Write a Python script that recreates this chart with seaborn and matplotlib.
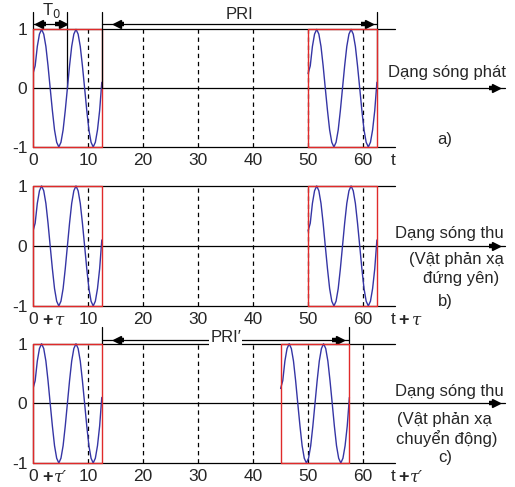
import numpy as np
import pandas as pd
import seaborn as sns
import matplotlib.pyplot as plt

# sampled carrier inside one pulse (offset from pulse start, 16 samples per period)
pulse_off = [0.0, 0.39, 0.78, 1.17, 1.56, 1.95, 2.34, 2.73, 3.12, 3.52, 3.91, 4.30,
             4.69, 5.08, 5.47, 5.86, 6.25, 6.64, 7.03, 7.42, 7.81, 8.20, 8.59, 8.98,
             9.38, 9.77, 10.16, 10.55, 10.94, 11.33, 11.72, 12.11, 12.5]
pulse_val = [0.25, 0.38, 0.71, 0.92, 1.0, 0.92, 0.71, 0.38, 0.0, -0.38, -0.71, -0.92,
             -1.0, -0.92, -0.71, -0.38, 0.0, 0.38, 0.71, 0.92, 1.0, 0.92, 0.71, 0.38,
             0.0, -0.38, -0.71, -0.92, -1.0, -0.92, -0.71, -0.38, 0.1]
pulse_width = 12.5

# pulse start times in each panel
starts_a = [0, 50]
starts_b = [0, 50]
starts_c = [0, 45]

tick_vals = [0, 10, 20, 30, 40, 50, 60]
tick_labels = ["0", "10", "20", "30", "40", "50", "60"]
t0_period = 6.2

sns.set_style("white")
plt.rcParams["font.family"] = ["Liberation Sans", "DejaVu Sans"]

BLUE = "#3535a5"
RED = "#e02a2a"
K = "black"

fig = plt.figure(figsize=(5.15, 4.87), dpi=100)
axa = fig.add_axes([0.0641, 0.6982, 0.9359, 0.3018])
axb = fig.add_axes([0.0641, 0.3717, 0.9359, 0.3080])
axc = fig.add_axes([0.0641, 0.0493, 0.9359, 0.3060])


def arrow_head(ax, x, y, direction):
    # matlab style head: small block + triangle
    d = 1 if direction == ">" else -1
    ax.plot([x - d * 2.0, x - d * 1.0], [y, y], color=K, lw=3.2, solid_capstyle="butt", clip_on=False)
    ax.plot([x - d * 0.6], [y], marker=direction, color=K, ms=5.5, clip_on=False)


def base_panel(ax, starts, tlabel):
    ax.set_xlim(0, 87.6)
    ax.set_ylim(-1, 1.5)
    ax.patch.set_visible(False)
    for s in ax.spines.values():
        s.set_visible(False)
    # frame lines
    ax.plot([0, 65.8], [1, 1], color=K, lw=0.9, clip_on=False)
    ax.plot([0, 65.8], [-1, -1], color=K, lw=0.9, clip_on=False)
    ax.plot([0, 0], [-1, 1], color=K, lw=0.9, clip_on=False)
    ax.plot([0, 85.8], [0, 0], color=K, lw=0.9, clip_on=False)
    arrow_head(ax, 84.8, 0, ">")
    for v in tick_vals[1:]:
        ax.plot([v, v], [-1, 1], color=K, lw=0.9, ls=(0, (3.5, 3)))
    # pulses
    for st in starts:
        df = pd.DataFrame({"t": [st + o for o in pulse_off], "v": pulse_val})
        sns.lineplot(data=df, x="t", y="v", ax=ax, color=BLUE, lw=1.0,
                     estimator=None, sort=False, zorder=4)
        ax.plot([st, st, st + pulse_width, st + pulse_width, st],
                [-1, 1, 1, -1, -1], color=RED, lw=1.0, zorder=5, clip_on=False)
    ax.set_xticks(tick_vals + [65.5])
    ax.set_xticklabels(tick_labels + ["t"])
    ax.set_yticks([1, 0, -1])
    ax.set_yticklabels(["1", "0", "-1"])
    ax.tick_params(length=0, labelsize=12.5, pad=4)
    ax.set_xlabel("")
    ax.set_ylabel("")
    if tlabel:
        for x0 in (2.6, 67.4):
            ax.text(x0, -1.24, "+", fontsize=13, fontweight="bold", ha="center", va="center", clip_on=False)
            ax.text(x0 + 2.3, -1.24, tlabel, fontsize=12, family="DejaVu Serif", style="italic",
                    ha="center", va="center", clip_on=False)


base_panel(axa, starts_a, None)
base_panel(axb, starts_b, "τ")
base_panel(axc, starts_c, "τ′")

# panel a annotations
for x in (0, t0_period, pulse_width, 62.5):
    axa.plot([x, x], [0 if x else 1, 1.29], color=K, lw=0.9, zorder=6 if x == pulse_width else 3, clip_on=False)
axa.plot([0, t0_period], [1.085, 1.085], color=K, lw=0.9)
arrow_head(axa, 0.4, 1.085, "<")
arrow_head(axa, 6.0, 1.085, ">")
axa.text(3.4, 1.32, "T$_0$", fontsize=12, ha="center", va="center")
axa.plot([pulse_width, 62.5], [1.085, 1.085], color=K, lw=0.9)
arrow_head(axa, 14.6, 1.085, "<")
arrow_head(axa, 61.6, 1.085, ">")
axa.text(37.6, 1.25, "PRI", fontsize=12, ha="center", va="center")
axa.text(64.5, 0.27, "Dạng sóng phát", fontsize=12, ha="left", va="center")
axa.text(74.9, -0.88, "a)", fontsize=12, ha="center", va="center")

# panel b annotations
axb.text(65.8, 0.2, "Dạng sóng thu", fontsize=12, ha="left", va="center")
axb.text(68.4, -0.22, "(Vật phản xạ", fontsize=12, ha="left", va="center")
axb.text(70.9, -0.55, "đứng yên)", fontsize=12, ha="left", va="center")
axb.text(74.9, -0.92, "b)", fontsize=12, ha="center", va="center")

# panel c annotations
for x in (pulse_width, 57.5):
    axc.plot([x, x], [1, 1.28], color=K, lw=0.9, clip_on=False)
axc.plot([pulse_width, 57.5], [1.07, 1.07], color=K, lw=0.9)
arrow_head(axc, 14.6, 1.07, "<")
arrow_head(axc, 56.4, 1.07, ">")
axc.text(35, 1.1, "PRI′", fontsize=12, ha="center", va="center",
         bbox=dict(facecolor="white", edgecolor="none", pad=1))
axc.text(65.8, 0.2, "Dạng sóng thu", fontsize=12, ha="left", va="center")
axc.text(66.2, -0.27, "(Vật phản xạ", fontsize=12, ha="left", va="center")
axc.text(66.0, -0.59, "chuyển động)", fontsize=12, ha="left", va="center")
axc.text(74.9, -0.9, "c)", fontsize=12, ha="center", va="center")

fig.savefig("out.png", dpi=100)
